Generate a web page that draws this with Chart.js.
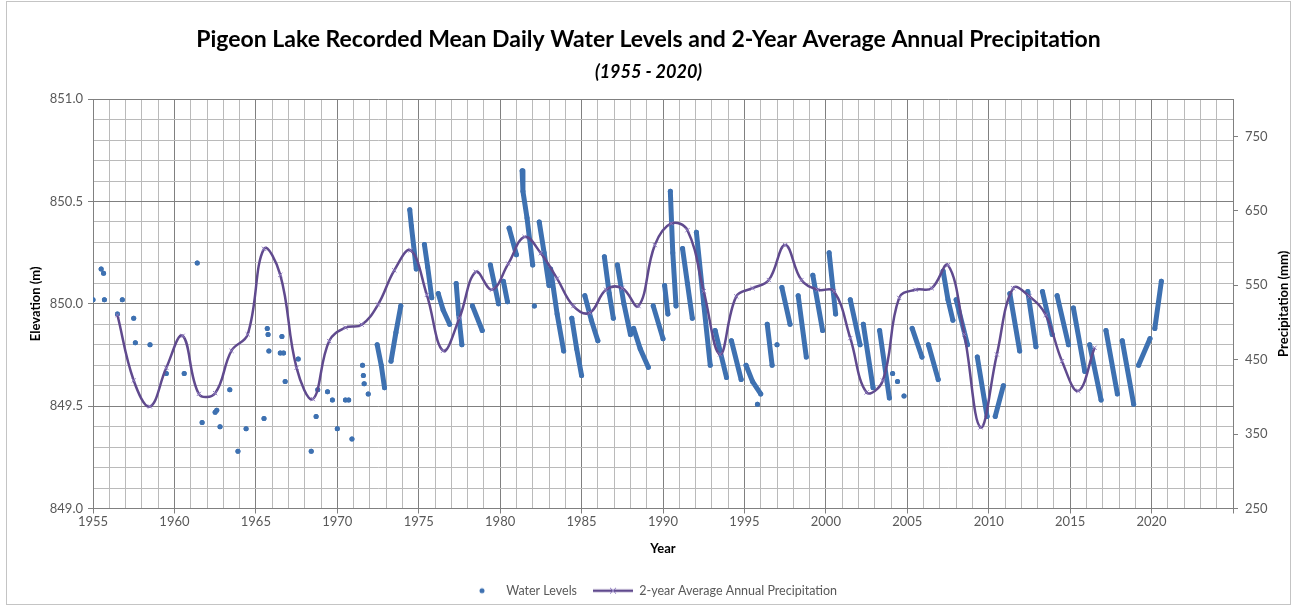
<!DOCTYPE html>
<html>
<head>
<meta charset="utf-8">
<title>Pigeon Lake Water Levels and Precipitation</title>
<script src="https://cdn.jsdelivr.net/npm/chart.js@4.4.1/dist/chart.umd.min.js"></script>
<style>
  html, body { margin: 0; padding: 0; background: #fff; }
  #wrap { position: relative; width: 1297px; height: 607px; }
  #frame { position: absolute; left: 6px; top: 1px; width: 1285px; height: 604px;
           border: 1px solid #c4c4c4; box-sizing: border-box; pointer-events: none; }
</style>
</head>
<body>
<div id="wrap">
  <canvas id="lakeChart" width="1297" height="607"></canvas>
  <div id="frame"></div>
</div>
<script>
// 2-year average annual precipitation (mm), one value per year
const precipYears = [
  1956.5, 1957.5, 1958.5, 1959.5, 1960.5, 1961.5, 1962.5, 1963.5, 1964.5, 1965.5,
  1966.5, 1967.5, 1968.5, 1969.5, 1970.5, 1971.5, 1972.5, 1973.5, 1974.5, 1975.5,
  1976.5, 1977.5, 1978.5, 1979.5, 1980.5, 1981.5, 1982.5, 1983.5, 1984.5, 1985.5,
  1986.5, 1987.5, 1988.5, 1989.5, 1990.5, 1991.5, 1992.5, 1993.5, 1994.5, 1995.5,
  1996.5, 1997.5, 1998.5, 1999.5, 2000.5, 2001.5, 2002.5, 2003.5, 2004.5, 2005.5,
  2006.5, 2007.5, 2008.5, 2009.5, 2010.5, 2011.5, 2012.5, 2013.5, 2014.5, 2015.5,
  2016.5
];
const precipValues = [
  510, 422, 387, 439, 482, 404, 405, 462, 484, 599,
  564, 439, 397, 475, 493, 497, 524, 570, 597, 537,
  462, 506, 568, 544, 579, 615, 593, 559, 522, 513,
  544, 546, 522, 604, 633, 624, 542, 457, 535, 546,
  557, 604, 557, 544, 542, 479, 406, 422, 533, 544,
  546, 577, 484, 359, 457, 546, 535, 510, 448, 408,
  466
];

// isolated water level readings (m)
const spotYears = [
  1955.0, 1955.5, 1955.65, 1955.7, 1956.5, 1956.8, 1957.5, 1957.6, 1958.5, 1959.5,
  1960.6, 1961.4, 1961.7, 1962.5, 1962.6, 1962.8, 1963.4, 1963.9, 1964.4, 1965.5,
  1965.7, 1965.75, 1965.8, 1966.5, 1966.6, 1966.7, 1966.8, 1967.6, 1968.4, 1968.7,
  1968.8, 1969.4, 1969.7, 1970.0, 1970.5, 1970.7, 1970.9, 1971.55, 1971.6, 1971.65,
  1971.9, 1982.1, 1995.8, 1997.0, 2004.1, 2004.4, 2004.8
];
const spotElev = [
  850.02, 850.17, 850.15, 850.02, 849.95, 850.02, 849.93, 849.81, 849.80, 849.66,
  849.66, 850.20, 849.42, 849.47, 849.48, 849.40, 849.58, 849.28, 849.39, 849.44,
  849.88, 849.85, 849.77, 849.76, 849.84, 849.76, 849.62, 849.73, 849.28, 849.45,
  849.58, 849.57, 849.53, 849.39, 849.53, 849.53, 849.34, 849.70, 849.65, 849.61,
  849.56, 849.99, 849.51, 849.80, 849.66, 849.62, 849.55
];

// daily record, one run per open-water season (null = gap)
const recordYears = [
  1972.45, 1972.7, 1972.9, null,
  1973.3, 1973.6, 1973.9, null,
  1974.45, 1974.55, 1974.85, null,
  1975.35, 1975.55, 1975.8, null,
  1976.2, 1976.5, 1976.9, null,
  1977.3, 1977.45, 1977.65, null,
  1978.3, 1978.9, null,
  1979.4, 1979.9, null,
  1980.2, 1980.45, null,
  1980.55, 1981.0, null,
  1981.35, 1981.4, 1981.65, 1982.0, null,
  1982.4, 1982.7, 1983.0, null,
  1983.1, 1983.5, 1983.9, null,
  1984.4, 1984.7, 1985.0, null,
  1985.2, 1985.6, 1986.0, null,
  1986.4, 1986.7, 1986.95, null,
  1987.2, 1987.6, 1988.0, null,
  1988.2, 1988.6, 1989.1, null,
  1989.4, 1990.0, null,
  1990.1, 1990.3, null,
  1990.45, 1990.6, 1990.8, null,
  1991.2, 1991.5, 1991.8, null,
  1992.05, 1992.5, 1992.9, null,
  1993.2, 1993.9, null,
  1994.2, 1994.8, null,
  1995.1, 1995.5, 1996.0, null,
  1996.4, 1996.7, null,
  1997.3, 1997.8, null,
  1998.3, 1998.8, null,
  1999.2, 1999.8, null,
  2000.2, 2000.6, null,
  2001.5, 2002.1, null,
  2002.3, 2002.9, null,
  2003.3, 2003.9, null,
  2005.3, 2005.9, null,
  2006.3, 2006.9, null,
  2007.2, 2007.5, 2007.8, null,
  2008.0, 2008.7, null,
  2009.3, 2009.9, null,
  2010.4, 2010.9, null,
  2011.3, 2011.9, null,
  2012.4, 2012.9, null,
  2013.3, 2013.9, null,
  2014.2, 2014.9, null,
  2015.2, 2015.9, null,
  2016.2, 2016.9, null,
  2017.2, 2017.9, null,
  2018.2, 2018.9, null,
  2019.2, 2019.9, null,
  2020.2, 2020.6
];
const recordElev = [
  849.80, 849.70, 849.59, null,
  849.72, 849.86, 849.99, null,
  850.46, 850.38, 850.17, null,
  850.29, 850.18, 850.03, null,
  850.05, 849.97, 849.90, null,
  850.10, 849.95, 849.80, null,
  849.99, 849.87, null,
  850.19, 850.00, null,
  850.11, 850.01, null,
  850.37, 850.24, null,
  850.65, 850.55, 850.42, 850.19, null,
  850.40, 850.25, 850.09, null,
  850.17, 849.95, 849.77, null,
  849.93, 849.78, 849.65, null,
  850.04, 849.92, 849.82, null,
  850.23, 850.05, 849.93, null,
  850.19, 850.00, 849.85, null,
  849.88, 849.78, 849.69, null,
  849.99, 849.83, null,
  850.09, 849.95, null,
  850.55, 850.25, 849.99, null,
  850.27, 850.10, 849.93, null,
  850.35, 850.00, 849.70, null,
  849.87, 849.64, null,
  849.82, 849.63, null,
  849.70, 849.62, 849.56, null,
  849.90, 849.70, null,
  850.08, 849.90, null,
  850.04, 849.74, null,
  850.14, 849.87, null,
  850.25, 849.95, null,
  850.02, 849.80, null,
  849.90, 849.59, null,
  849.87, 849.54, null,
  849.88, 849.74, null,
  849.80, 849.63, null,
  850.16, 850.02, 849.92, null,
  850.02, 849.80, null,
  849.74, 849.45, null,
  849.45, 849.60, null,
  850.05, 849.77, null,
  850.06, 849.79, null,
  850.06, 849.85, null,
  850.04, 849.80, null,
  849.98, 849.67, null,
  849.80, 849.53, null,
  849.87, 849.56, null,
  849.82, 849.51, null,
  849.70, 849.83, null,
  849.88, 850.11
];

const precipTicks = [250, 350, 450, 550, 650, 750];

const LEVEL_BLUE = "#3e71b1";
const PRECIP_PURPLE = "#604a8e";
const GRID_MINOR = "#bababa";
const GRID_MAJOR = "#808080";
const TEXT_GREY = "#595959";
const FONT = "Lato, 'Open Sans', sans-serif";

// build the water level series: every spot reading stands alone
const levelData = [];
spotYears.forEach((yr, i) => {
  levelData.push({ x: yr, y: spotElev[i] });
  levelData.push({ x: yr, y: null });
});
let lastYear = 1972;
recordYears.forEach((yr, i) => {
  if (yr !== null) lastYear = yr;
  levelData.push({ x: lastYear, y: recordElev[i] });
});

const precipData = precipYears.map((yr, i) => ({ x: yr, y: precipValues[i] }));

function isHalf(v) {
  return Math.abs(v * 2 - Math.round(v * 2)) < 1e-6;
}

// legend icons
function makeIcon(kind) {
  const c = document.createElement("canvas");
  c.width = 40;
  c.height = 10;
  const g = c.getContext("2d");
  if (kind === "dot") {
    g.fillStyle = LEVEL_BLUE;
    g.beginPath();
    g.arc(22, 5, 2.5, 0, Math.PI * 2);
    g.fill();
  } else {
    g.strokeStyle = PRECIP_PURPLE;
    g.lineWidth = 2.5;
    g.beginPath();
    g.moveTo(0, 5);
    g.lineTo(40, 5);
    g.stroke();
    g.strokeStyle = "#8e7cc0";
    g.lineWidth = 1;
    g.beginPath();
    g.moveTo(17, 2); g.lineTo(23, 8);
    g.moveTo(23, 2); g.lineTo(17, 8);
    g.stroke();
  }
  return c;
}

const rightTitle = {
  id: "rightTitle",
  afterDraw(chart) {
    const { ctx, chartArea } = chart;
    ctx.save();
    ctx.translate(1284, (chartArea.top + chartArea.bottom) / 2);
    ctx.rotate(-Math.PI / 2);
    ctx.font = "bold 13px " + FONT;
    ctx.fillStyle = "#000";
    ctx.textAlign = "center";
    ctx.textBaseline = "middle";
    ctx.fillText("Precipitation (mm)", 0, 0);
    ctx.restore();
  },
};

const lakeCtx = document.getElementById("lakeChart");
new Chart(lakeCtx, {
  type: "line",
  data: {
    datasets: [
      {
        label: "Water Levels",
        data: levelData,
        yAxisID: "y",
        order: 1,
        borderColor: LEVEL_BLUE,
        borderWidth: 5,
        borderCapStyle: "round",
        borderJoinStyle: "round",
        backgroundColor: LEVEL_BLUE,
        pointRadius: 2.5,
        pointBorderWidth: 0,
        pointBackgroundColor: LEVEL_BLUE,
        spanGaps: false,
        tension: 0,
        fill: false,
      },
      {
        label: "2-year Average Annual Precipitation",
        data: precipData,
        yAxisID: "y1",
        order: 0,
        borderColor: PRECIP_PURPLE,
        borderWidth: 2.5,
        backgroundColor: PRECIP_PURPLE,
        pointStyle: "crossRot",
        pointRadius: 3,
        pointBorderColor: "#8e7cc0",
        pointBorderWidth: 1,
        tension: 0.4,
        fill: false,
      },
    ],
  },
  options: {
    responsive: false,
    animation: false,
    devicePixelRatio: 1,
    layout: {
      padding: { left: 0, right: 0, top: 0, bottom: 0 },
    },
    plugins: {
      title: {
        display: true,
        text: "Pigeon Lake Recorded Mean Daily Water Levels and 2-Year Average Annual Precipitation",
        color: "#000",
        font: { family: FONT, size: 23, weight: "bold" },
        padding: { top: 26, bottom: 0 },
      },
      subtitle: {
        display: true,
        text: "(1955 - 2020)",
        color: "#000",
        font: { family: FONT, size: 18, weight: "bold", style: "italic" },
        padding: { top: 8, bottom: 16 },
      },
      legend: {
        position: "bottom",
        labels: {
          usePointStyle: true,
          pointStyleWidth: 40,
          padding: 16,
          color: TEXT_GREY,
          font: { family: FONT, size: 12.5 },
          generateLabels() {
            return [
              { text: "Water Levels", pointStyle: makeIcon("dot"), datasetIndex: 0, fontColor: TEXT_GREY, hidden: false, lineWidth: 0 },
              { text: "2-year Average Annual Precipitation", pointStyle: makeIcon("line"), datasetIndex: 1, fontColor: TEXT_GREY, hidden: false, lineWidth: 0 },
            ];
          },
        },
      },
      tooltip: { enabled: false },
    },
    scales: {
      x: {
        type: "linear",
        min: 1955,
        max: 2025,
        afterFit(s) { s.height = 60; },
        ticks: {
          stepSize: 1,
          autoSkip: false,
          maxRotation: 0,
          minRotation: 0,
          padding: 1,
          color: TEXT_GREY,
          font: { family: FONT, size: 13 },
          callback: (v) => (v % 5 === 0 && v <= 2020 ? String(v) : ""),
        },
        grid: {
          color: (c) => (c.tick && c.tick.value % 5 === 0 ? GRID_MAJOR : GRID_MINOR),
          tickLength: 5,
          tickColor: (c) => (c.tick && c.tick.value % 5 === 0 ? GRID_MAJOR : "rgba(0,0,0,0)"),
        },
        border: { color: GRID_MAJOR },
        title: {
          display: true,
          text: "Year",
          color: "#000",
          font: { family: FONT, size: 13, weight: "bold" },
          padding: { top: 0, bottom: 12 },
        },
      },
      y: {
        type: "linear",
        position: "left",
        min: 849,
        max: 851,
        afterFit(s) { s.width = 93; },
        ticks: {
          stepSize: 0.1,
          padding: 5,
          color: TEXT_GREY,
          font: { family: FONT, size: 13 },
          callback: (v) => (isHalf(v) ? v.toFixed(1) : ""),
        },
        grid: {
          color: (c) => (c.tick && isHalf(c.tick.value) ? GRID_MAJOR : GRID_MINOR),
          tickLength: 5,
          tickColor: (c) => (c.tick && isHalf(c.tick.value) ? GRID_MAJOR : "rgba(0,0,0,0)"),
        },
        border: { color: GRID_MAJOR },
        title: {
          display: true,
          text: "Elevation (m)",
          color: "#000",
          font: { family: FONT, size: 13, weight: "bold" },
          padding: { top: 28, bottom: 0 },
        },
      },
      y1: {
        type: "linear",
        position: "right",
        min: 250,
        max: 800,
        afterFit(s) { s.width = 64; },
        afterBuildTicks(axis) {
          axis.ticks = precipTicks.map((v) => ({ value: v }));
        },
        ticks: {
          padding: 7,
          color: TEXT_GREY,
          font: { family: FONT, size: 13 },
        },
        grid: {
          drawOnChartArea: false,
          tickLength: 5,
          tickColor: GRID_MAJOR,
        },
        border: { color: GRID_MAJOR },
      },
    },
  },
  plugins: [rightTitle],
});
</script>
</body>
</html>
